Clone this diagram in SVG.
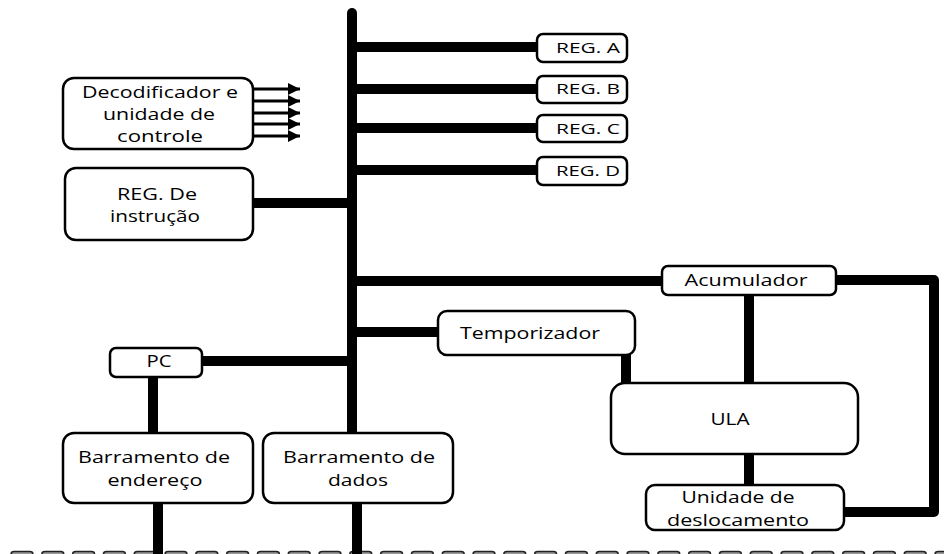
<svg xmlns="http://www.w3.org/2000/svg" width="944" height="554" viewBox="0 0 944 554">
<defs>
<style>
.box{fill:#fff;stroke:#000;stroke-width:2.5}
.bus{fill:none;stroke:#000;stroke-width:10;stroke-linecap:round;stroke-linejoin:round}
.sig{fill:none;stroke:#000;stroke-width:3}
.mem{fill:#9a9a9a;stroke:#222;stroke-width:1.5}
text{font-family:"Open Sans","Liberation Sans",sans-serif;font-size:17px;fill:#000;text-anchor:middle}
.sm{font-size:15px}
</style>
<marker id="ah" viewBox="0 0 10 10" refX="10" refY="5" markerWidth="5.5" markerHeight="4" orient="auto" markerUnits="strokeWidth">
<path d="M0,0 L10,5 L0,10 Z" fill="#000"/>
</marker>
</defs>
<rect width="944" height="554" fill="#fff"/>
<g id="memory">
<rect class="mem" x="11" y="551.5" width="22" height="10" rx="3"/>
<rect class="mem" x="41.8" y="551.5" width="22" height="10" rx="3"/>
<rect class="mem" x="72.6" y="551.5" width="22" height="10" rx="3"/>
<rect class="mem" x="103.4" y="551.5" width="22" height="10" rx="3"/>
<rect class="mem" x="134.2" y="551.5" width="22" height="10" rx="3"/>
<rect class="mem" x="165" y="551.5" width="22" height="10" rx="3"/>
<rect class="mem" x="195.8" y="551.5" width="22" height="10" rx="3"/>
<rect class="mem" x="226.6" y="551.5" width="22" height="10" rx="3"/>
<rect class="mem" x="257.4" y="551.5" width="22" height="10" rx="3"/>
<rect class="mem" x="288.2" y="551.5" width="22" height="10" rx="3"/>
<rect class="mem" x="319" y="551.5" width="22" height="10" rx="3"/>
<rect class="mem" x="349.8" y="551.5" width="22" height="10" rx="3"/>
<rect class="mem" x="380.6" y="551.5" width="22" height="10" rx="3"/>
<rect class="mem" x="411.4" y="551.5" width="22" height="10" rx="3"/>
<rect class="mem" x="442.2" y="551.5" width="22" height="10" rx="3"/>
<rect class="mem" x="473" y="551.5" width="22" height="10" rx="3"/>
<rect class="mem" x="503.8" y="551.5" width="22" height="10" rx="3"/>
<rect class="mem" x="534.6" y="551.5" width="22" height="10" rx="3"/>
<rect class="mem" x="565.4" y="551.5" width="22" height="10" rx="3"/>
<rect class="mem" x="596.2" y="551.5" width="22" height="10" rx="3"/>
<rect class="mem" x="627" y="551.5" width="22" height="10" rx="3"/>
<rect class="mem" x="657.8" y="551.5" width="22" height="10" rx="3"/>
<rect class="mem" x="688.6" y="551.5" width="22" height="10" rx="3"/>
<rect class="mem" x="719.4" y="551.5" width="22" height="10" rx="3"/>
<rect class="mem" x="750.2" y="551.5" width="22" height="10" rx="3"/>
<rect class="mem" x="781" y="551.5" width="22" height="10" rx="3"/>
<rect class="mem" x="811.8" y="551.5" width="22" height="10" rx="3"/>
<rect class="mem" x="842.6" y="551.5" width="22" height="10" rx="3"/>
<rect class="mem" x="873.4" y="551.5" width="22" height="10" rx="3"/>
<rect class="mem" x="904.2" y="551.5" width="22" height="10" rx="3"/>
<rect class="mem" x="935" y="551.5" width="22" height="10" rx="3"/>
</g>
<g id="connectors">
<path class="bus" d="M352,13 V433"/>
<path class="bus" d="M352,47 H537 M352,89 H537 M352,128 H537 M352,170 H537"/>
<path class="bus" d="M253,203 H352"/>
<path class="bus" d="M352,281 H662"/>
<path class="bus" d="M352,332 H438"/>
<path class="bus" d="M202,361 H352"/>
<path class="bus" d="M153,377 V433"/>
<path class="bus" d="M158,503 V560" style="stroke-linecap:butt"/>
<path class="bus" d="M357,503 V560" style="stroke-linecap:butt"/>
<path class="bus" d="M626,355 V383"/>
<path class="bus" d="M749,295 V383"/>
<path class="bus" d="M749,454 V485"/>
<path class="bus" d="M836,280 H934 V512 H844"/>
<line class="sig" x1="253" y1="89" x2="300" y2="89" marker-end="url(#ah)"/>
<line class="sig" x1="253" y1="101" x2="300" y2="101" marker-end="url(#ah)"/>
<line class="sig" x1="253" y1="113" x2="300" y2="113" marker-end="url(#ah)"/>
<line class="sig" x1="253" y1="124" x2="300" y2="124" marker-end="url(#ah)"/>
<line class="sig" x1="253" y1="136" x2="300" y2="136" marker-end="url(#ah)"/>
</g>
<g id="decodificador">
<rect class="box" x="63" y="78" width="190" height="71" rx="11"/>
<text x="160" y="98" textLength="156" lengthAdjust="spacingAndGlyphs">Decodificador e</text>
<text x="159" y="120" textLength="112" lengthAdjust="spacingAndGlyphs">unidade de</text>
<text x="160" y="142" textLength="86" lengthAdjust="spacingAndGlyphs">controle</text>
</g>
<g id="reg-instrucao">
<rect class="box" x="65" y="168" width="188" height="72" rx="11"/>
<text x="157" y="200" textLength="80" lengthAdjust="spacingAndGlyphs">REG. De</text>
<text x="155" y="222" textLength="90" lengthAdjust="spacingAndGlyphs">instrução</text>
</g>
<g id="reg-a">
<rect class="box" x="537" y="34" width="90" height="28" rx="6"/>
<text class="sm" x="588" y="53" textLength="64" lengthAdjust="spacingAndGlyphs">REG. A</text>
</g>
<g id="reg-b">
<rect class="box" x="537" y="76" width="90" height="27" rx="6"/>
<text class="sm" x="588" y="94" textLength="64" lengthAdjust="spacingAndGlyphs">REG. B</text>
</g>
<g id="reg-c">
<rect class="box" x="537" y="115" width="90" height="27" rx="6"/>
<text class="sm" x="588" y="134" textLength="64" lengthAdjust="spacingAndGlyphs">REG. C</text>
</g>
<g id="reg-d">
<rect class="box" x="537" y="157" width="90" height="28" rx="6"/>
<text class="sm" x="588" y="176" textLength="64" lengthAdjust="spacingAndGlyphs">REG. D</text>
</g>
<g id="acumulador">
<rect class="box" x="662" y="266" width="174" height="29" rx="6"/>
<text x="746" y="286" textLength="123" lengthAdjust="spacingAndGlyphs">Acumulador</text>
</g>
<g id="temporizador">
<rect class="box" x="438" y="311" width="197" height="44" rx="9"/>
<text x="530" y="339" textLength="140" lengthAdjust="spacingAndGlyphs">Temporizador</text>
</g>
<g id="ula">
<rect class="box" x="611" y="383" width="247" height="71" rx="14"/>
<text x="730" y="425" textLength="39" lengthAdjust="spacingAndGlyphs">ULA</text>
</g>
<g id="deslocamento">
<rect class="box" x="646" y="485" width="198" height="45" rx="9"/>
<text x="738" y="503" textLength="113" lengthAdjust="spacingAndGlyphs">Unidade de</text>
<text x="738" y="526" textLength="142" lengthAdjust="spacingAndGlyphs">deslocamento</text>
</g>
<g id="pc">
<rect class="box" x="110" y="348" width="92" height="29" rx="6"/>
<text x="159" y="367" textLength="25" lengthAdjust="spacingAndGlyphs">PC</text>
</g>
<g id="barramento-endereco">
<rect class="box" x="63" y="433" width="190" height="70" rx="11"/>
<text x="154" y="463" textLength="152" lengthAdjust="spacingAndGlyphs">Barramento de</text>
<text x="155" y="486" textLength="95" lengthAdjust="spacingAndGlyphs">endereço</text>
</g>
<g id="barramento-dados">
<rect class="box" x="263" y="433" width="190" height="70" rx="11"/>
<text x="359" y="463" textLength="152" lengthAdjust="spacingAndGlyphs">Barramento de</text>
<text x="358" y="486" textLength="60" lengthAdjust="spacingAndGlyphs">dados</text>
</g>
</svg>
